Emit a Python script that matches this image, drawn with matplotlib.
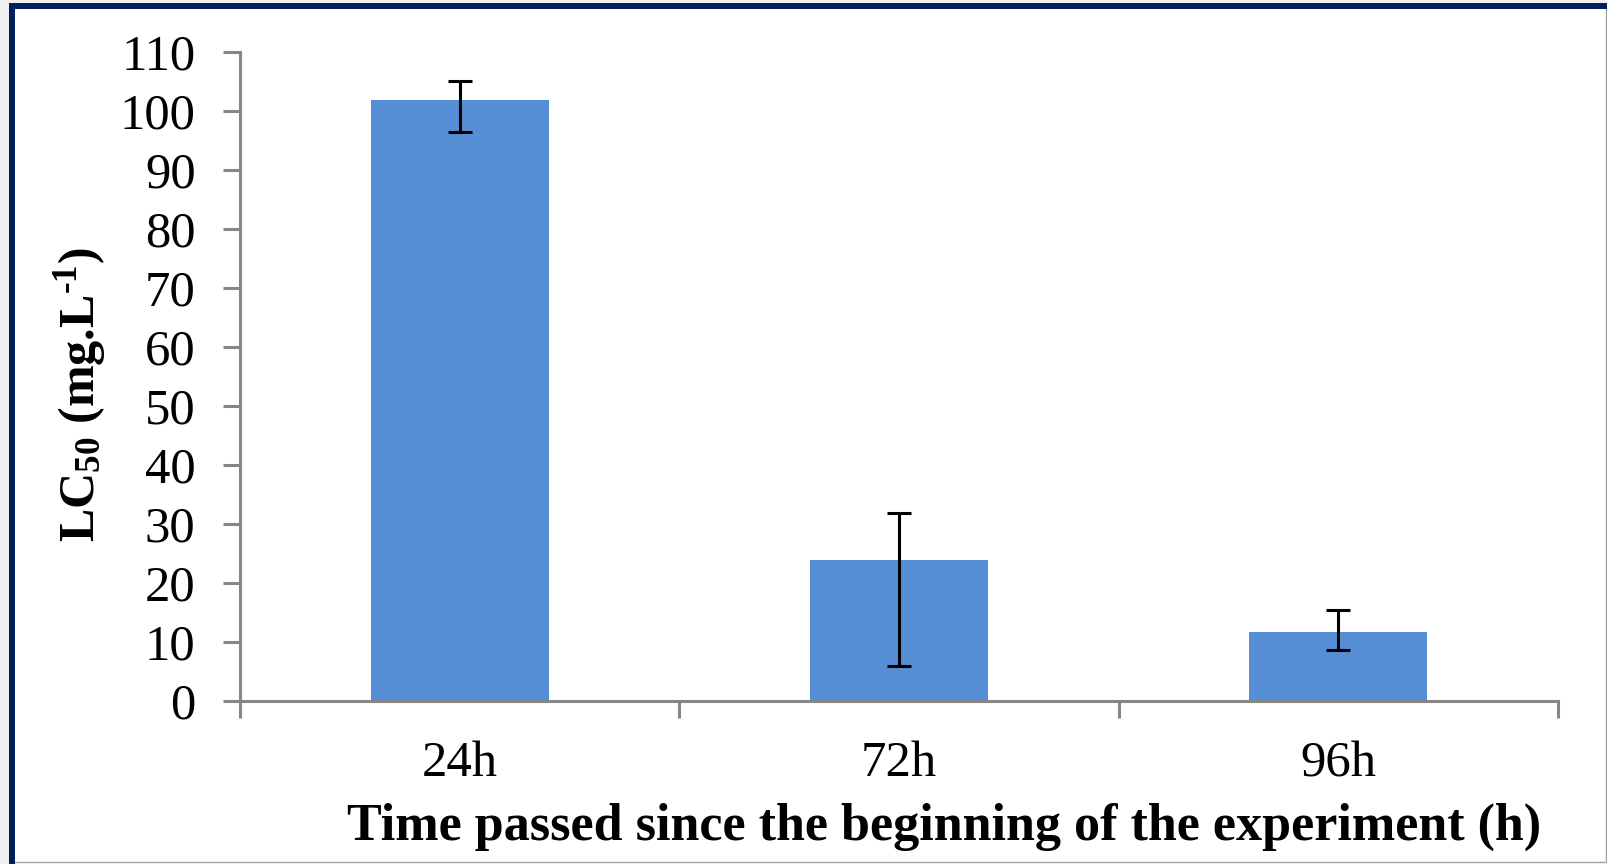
import matplotlib.pyplot as plt
from matplotlib.patches import Rectangle

# Datos
categorias = ["24h", "72h", "96h"]
lc50 = [101.9, 23.9, 11.7]
error_inferior = [5.4, 18.1, 3.1]
error_superior = [3.2, 7.9, 3.6]

plt.rcParams['font.family'] = ['Liberation Serif', 'DejaVu Serif']
plt.rcParams['mathtext.fontset'] = 'custom'
plt.rcParams['mathtext.rm'] = 'Liberation Serif:bold'
plt.rcParams['mathtext.default'] = 'rm'

fig = plt.figure(figsize=(16.08, 8.64), dpi=100, facecolor='#f0f0f0')

# marco de la imagen
fig.patches.append(Rectangle((9/1608, 0), 1 - 9/1608, 1 - 3/864, transform=fig.transFigure,
                             facecolor='white', edgecolor='none', zorder=-5))
fig.patches.append(Rectangle((12/1608, 2/864), 1 - 14/1608, 1 - 8/864, transform=fig.transFigure,
                             facecolor='none', edgecolor='#a0a0a0', linewidth=1, zorder=-4))
fig.patches.append(Rectangle((9/1608, 0), 6/1608, 1 - 3/864, transform=fig.transFigure,
                             facecolor='#00205b', edgecolor='none', zorder=-3))
fig.patches.append(Rectangle((9/1608, 1 - 9/864), 1 - 9/1608, 6/864, transform=fig.transFigure,
                             facecolor='#00205b', edgecolor='none', zorder=-3))

ax = fig.add_axes([240/1608, 1 - 700.7/864, (1558 - 240)/1608, (700.7 - 52)/864])
ax.set_facecolor('none')
ax.set_zorder(2)

x = range(len(categorias))
ax.bar(x, lc50, width=0.405, color='#558ed5', zorder=2)
ax.errorbar(x, lc50, yerr=[error_inferior, error_superior], fmt='none', ecolor='black',
            elinewidth=2.2, capsize=8.3, capthick=2.2, zorder=3)

ax.set_xlim(-0.5, 2.5)
ax.set_ylim(0, 110)
ax.set_yticks(range(0, 111, 10))
ax.set_xticks(list(x))
ax.set_xticklabels(categorias)
ax.set_xticks([-0.5, 0.5, 1.5, 2.5], minor=True)

for lado in ['top', 'right']:
    ax.spines[lado].set_visible(False)
for lado in ['left', 'bottom']:
    ax.spines[lado].set_color('#868686')
    ax.spines[lado].set_linewidth(2.2)

ax.tick_params(axis='y', direction='out', length=12, width=2.2, color='#868686',
               labelsize=36.5, pad=20)
ax.tick_params(axis='x', which='major', length=0, labelsize=36.5, pad=29)
ax.tick_params(axis='x', which='minor', direction='out', length=12, width=2.2, color='#868686')

fig.text(944/1608, 1 - 840/864, "Time passed since the beginning of the experiment (h)",
         fontsize=37.5, fontweight='bold', ha='center', va='baseline')
fig.text(80/1608, 1 - 395/864, r"LC$_{50}$ (mg.L$^{\text{-}1}$)", fontsize=36, fontweight='bold',
         rotation=90, ha='center', va='center')

fig.savefig("out.png", dpi=100, facecolor=fig.get_facecolor())
